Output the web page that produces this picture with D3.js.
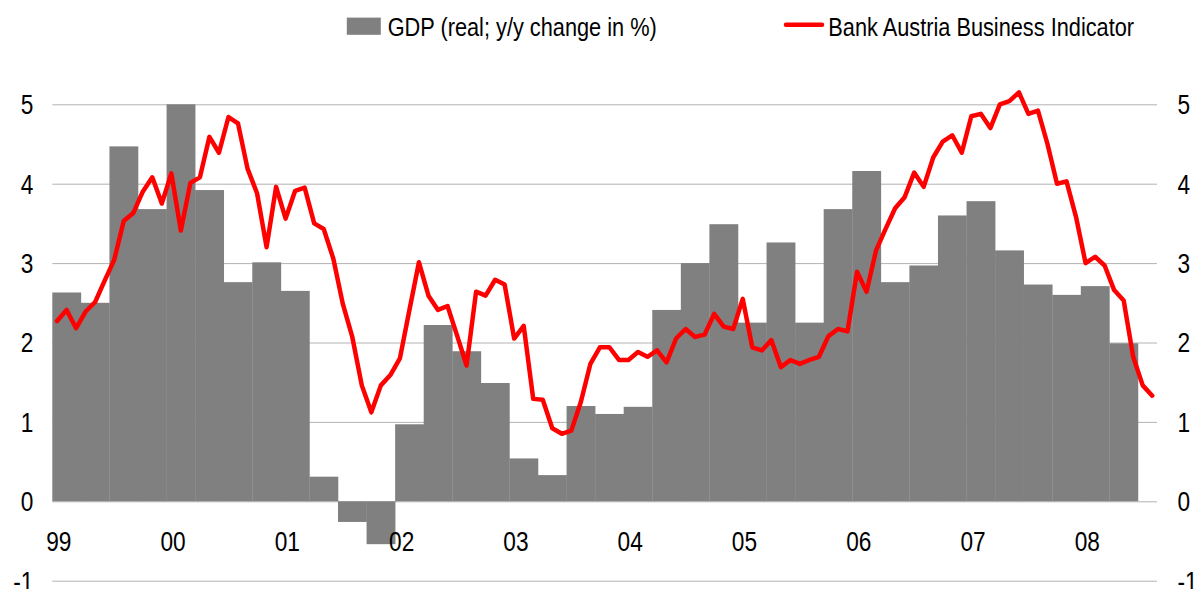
<!DOCTYPE html>
<html>
<head>
<meta charset="utf-8">
<script src="https://cdn.jsdelivr.net/npm/d3@7"></script>
<style>
  html, body { margin: 0; padding: 0; background: #ffffff; }
  svg { display: block; }
  text { font-family: "Liberation Sans", Arial, sans-serif; fill: #000; }
</style>
</head>
<body>
<svg id="chart" width="1197" height="589"></svg>
<script>
// ---------- data ----------
const yearLabels = ["99","00","01","02","03","04","05","06","07","08"];
// quarterly GDP (real; y/y change in %), 1999Q1 .. 2008Q2
const gdpValues = [2.63,2.50,4.47,3.68, 5.00,3.92,2.76,3.01, 2.65,0.31,-0.26,-0.54,
  0.97,2.22,1.89,1.49, 0.54,0.33,1.20,1.10, 1.19,2.41,3.00,3.49, 2.25,3.26,2.25,3.68,
  4.16,2.76,2.97,3.60, 3.78,3.16,2.73,2.60, 2.71,1.99];
// monthly Bank Austria Business Indicator, Jan 1999 .. Aug 2008
const indicatorValues = [2.27,2.41,2.18,2.39,2.51,2.78,3.04,3.53,3.63,3.90,4.08,3.75,
  4.13,3.41,4.01,4.08,4.59,4.39,4.84,4.76,4.19,3.88,3.20,3.96,
  3.56,3.91,3.95,3.50,3.43,3.06,2.49,2.07,1.46,1.12,1.46,1.59,
  1.80,2.41,3.01,2.59,2.41,2.46,2.09,1.71,2.64,2.59,2.79,2.73,
  2.05,2.21,1.29,1.28,0.92,0.85,0.89,1.25,1.73,1.94,1.94,1.78,
  1.78,1.88,1.82,1.90,1.75,2.05,2.17,2.07,2.10,2.36,2.20,2.17,
  2.55,1.94,1.90,2.03,1.69,1.78,1.73,1.78,1.82,2.08,2.17,2.14,
  2.89,2.64,3.16,3.43,3.69,3.83,4.14,3.96,4.33,4.53,4.61,4.39,
  4.85,4.88,4.70,5.00,5.04,5.15,4.88,4.92,4.50,4.00,4.03,3.58,
  3.00,3.08,2.97,2.66,2.53,1.82,1.46,1.33];
const yTicks = [-1,0,1,2,3,4,5];
const yTickLabels = ["-1","0","1","2","3","4","5"];
const seriesNames = ["GDP (real; y/y change in %)", "Bank Austria Business Indicator"];

// ---------- layout ----------
const plotLeft = 52.3, plotRight = 1157, plotTop = 104.3, plotBottom = 580.7;
const nMonths = indicatorValues.length; // 116
const svg = d3.select("#chart");
const x = d3.scaleLinear().domain([0, nMonths]).range([plotLeft, plotRight]);
const y = d3.scaleLinear().domain([-1, 5]).range([plotBottom, plotTop]);
const SX = 0.84; // horizontal condensing of axis labels
const LX = 0.87; // horizontal condensing of legend labels
const FONT = "Liberation Sans, Arial, sans-serif";
const fmtY = (d, i) => yTickLabels[i];

// gridlines + left axis
const gLeft = svg.append("g").attr("transform", `translate(${plotLeft},0)`)
  .call(d3.axisLeft(y).tickValues(yTicks).tickSize(-(plotRight - plotLeft)).tickPadding(0).tickFormat(fmtY));
gLeft.select(".domain").remove();
gLeft.selectAll(".tick line").attr("stroke", "#b3b3b3").attr("stroke-width", 1);
gLeft.selectAll(".tick text")
  .attr("font-size", 27).attr("font-family", FONT).attr("fill", "#000")
  .attr("x", -19 / SX).attr("dy", "0.35em")
  .attr("transform", `scale(${SX},1)`);

// right axis labels
const gRight = svg.append("g").attr("transform", `translate(${plotRight},0)`)
  .call(d3.axisRight(y).tickValues(yTicks).tickSize(0).tickPadding(0).tickFormat(fmtY));
gRight.select(".domain").remove();
gRight.selectAll(".tick text")
  .attr("font-size", 27).attr("font-family", FONT).attr("fill", "#000")
  .attr("x", 20.5 / SX).attr("dy", "0.35em")
  .attr("transform", `scale(${SX},1)`);

// bars
svg.append("g").selectAll("rect").data(gdpValues).join("rect")
  .attr("x", (d, i) => x(i * 3))
  .attr("width", (d, i) => x(i * 3 + 3) - x(i * 3) + 0.3)
  .attr("y", d => Math.min(y(d), y(0)))
  .attr("height", d => Math.abs(y(d) - y(0)))
  .attr("fill", "#808080");

// line
const line = d3.line().x((d, i) => x(i + 0.5)).y(d => y(d));
svg.append("path").datum(indicatorValues)
  .attr("d", line).attr("fill", "none")
  .attr("stroke", "#ff0000").attr("stroke-width", 4.5)
  .attr("stroke-linejoin", "round").attr("stroke-linecap", "round");

// x axis year labels
const gX = svg.append("g").attr("transform", `translate(6,${y(0)})`)
  .call(d3.axisBottom(x).tickValues(yearLabels.map((d, i) => i * 12))
    .tickSize(0).tickPadding(30.7).tickFormat((d, i) => yearLabels[i]));
gX.select(".domain").remove();
gX.selectAll(".tick text")
  .attr("font-size", 27).attr("font-family", FONT).attr("fill", "#000")
  .attr("transform", `scale(${SX},1)`);

// legend
const leg = svg.append("g");
leg.append("rect").attr("x", 346.8).attr("y", 17.6).attr("width", 34).attr("height", 17.2).attr("fill", "#808080");
leg.append("text").attr("x", 387.7 / LX).attr("y", 35.7).attr("font-size", 25).attr("font-family", FONT)
  .attr("transform", `scale(${LX},1)`).text(seriesNames[0]);
leg.append("line").attr("x1", 786).attr("x2", 822).attr("y1", 24.8).attr("y2", 24.8)
  .attr("stroke", "#ff0000").attr("stroke-width", 4.5).attr("stroke-linecap", "round");
leg.append("text").attr("x", 828.3 / LX).attr("y", 35.7).attr("font-size", 25).attr("font-family", FONT)
  .attr("transform", `scale(${LX},1)`).text(seriesNames[1]);
</script>
</body>
</html>
